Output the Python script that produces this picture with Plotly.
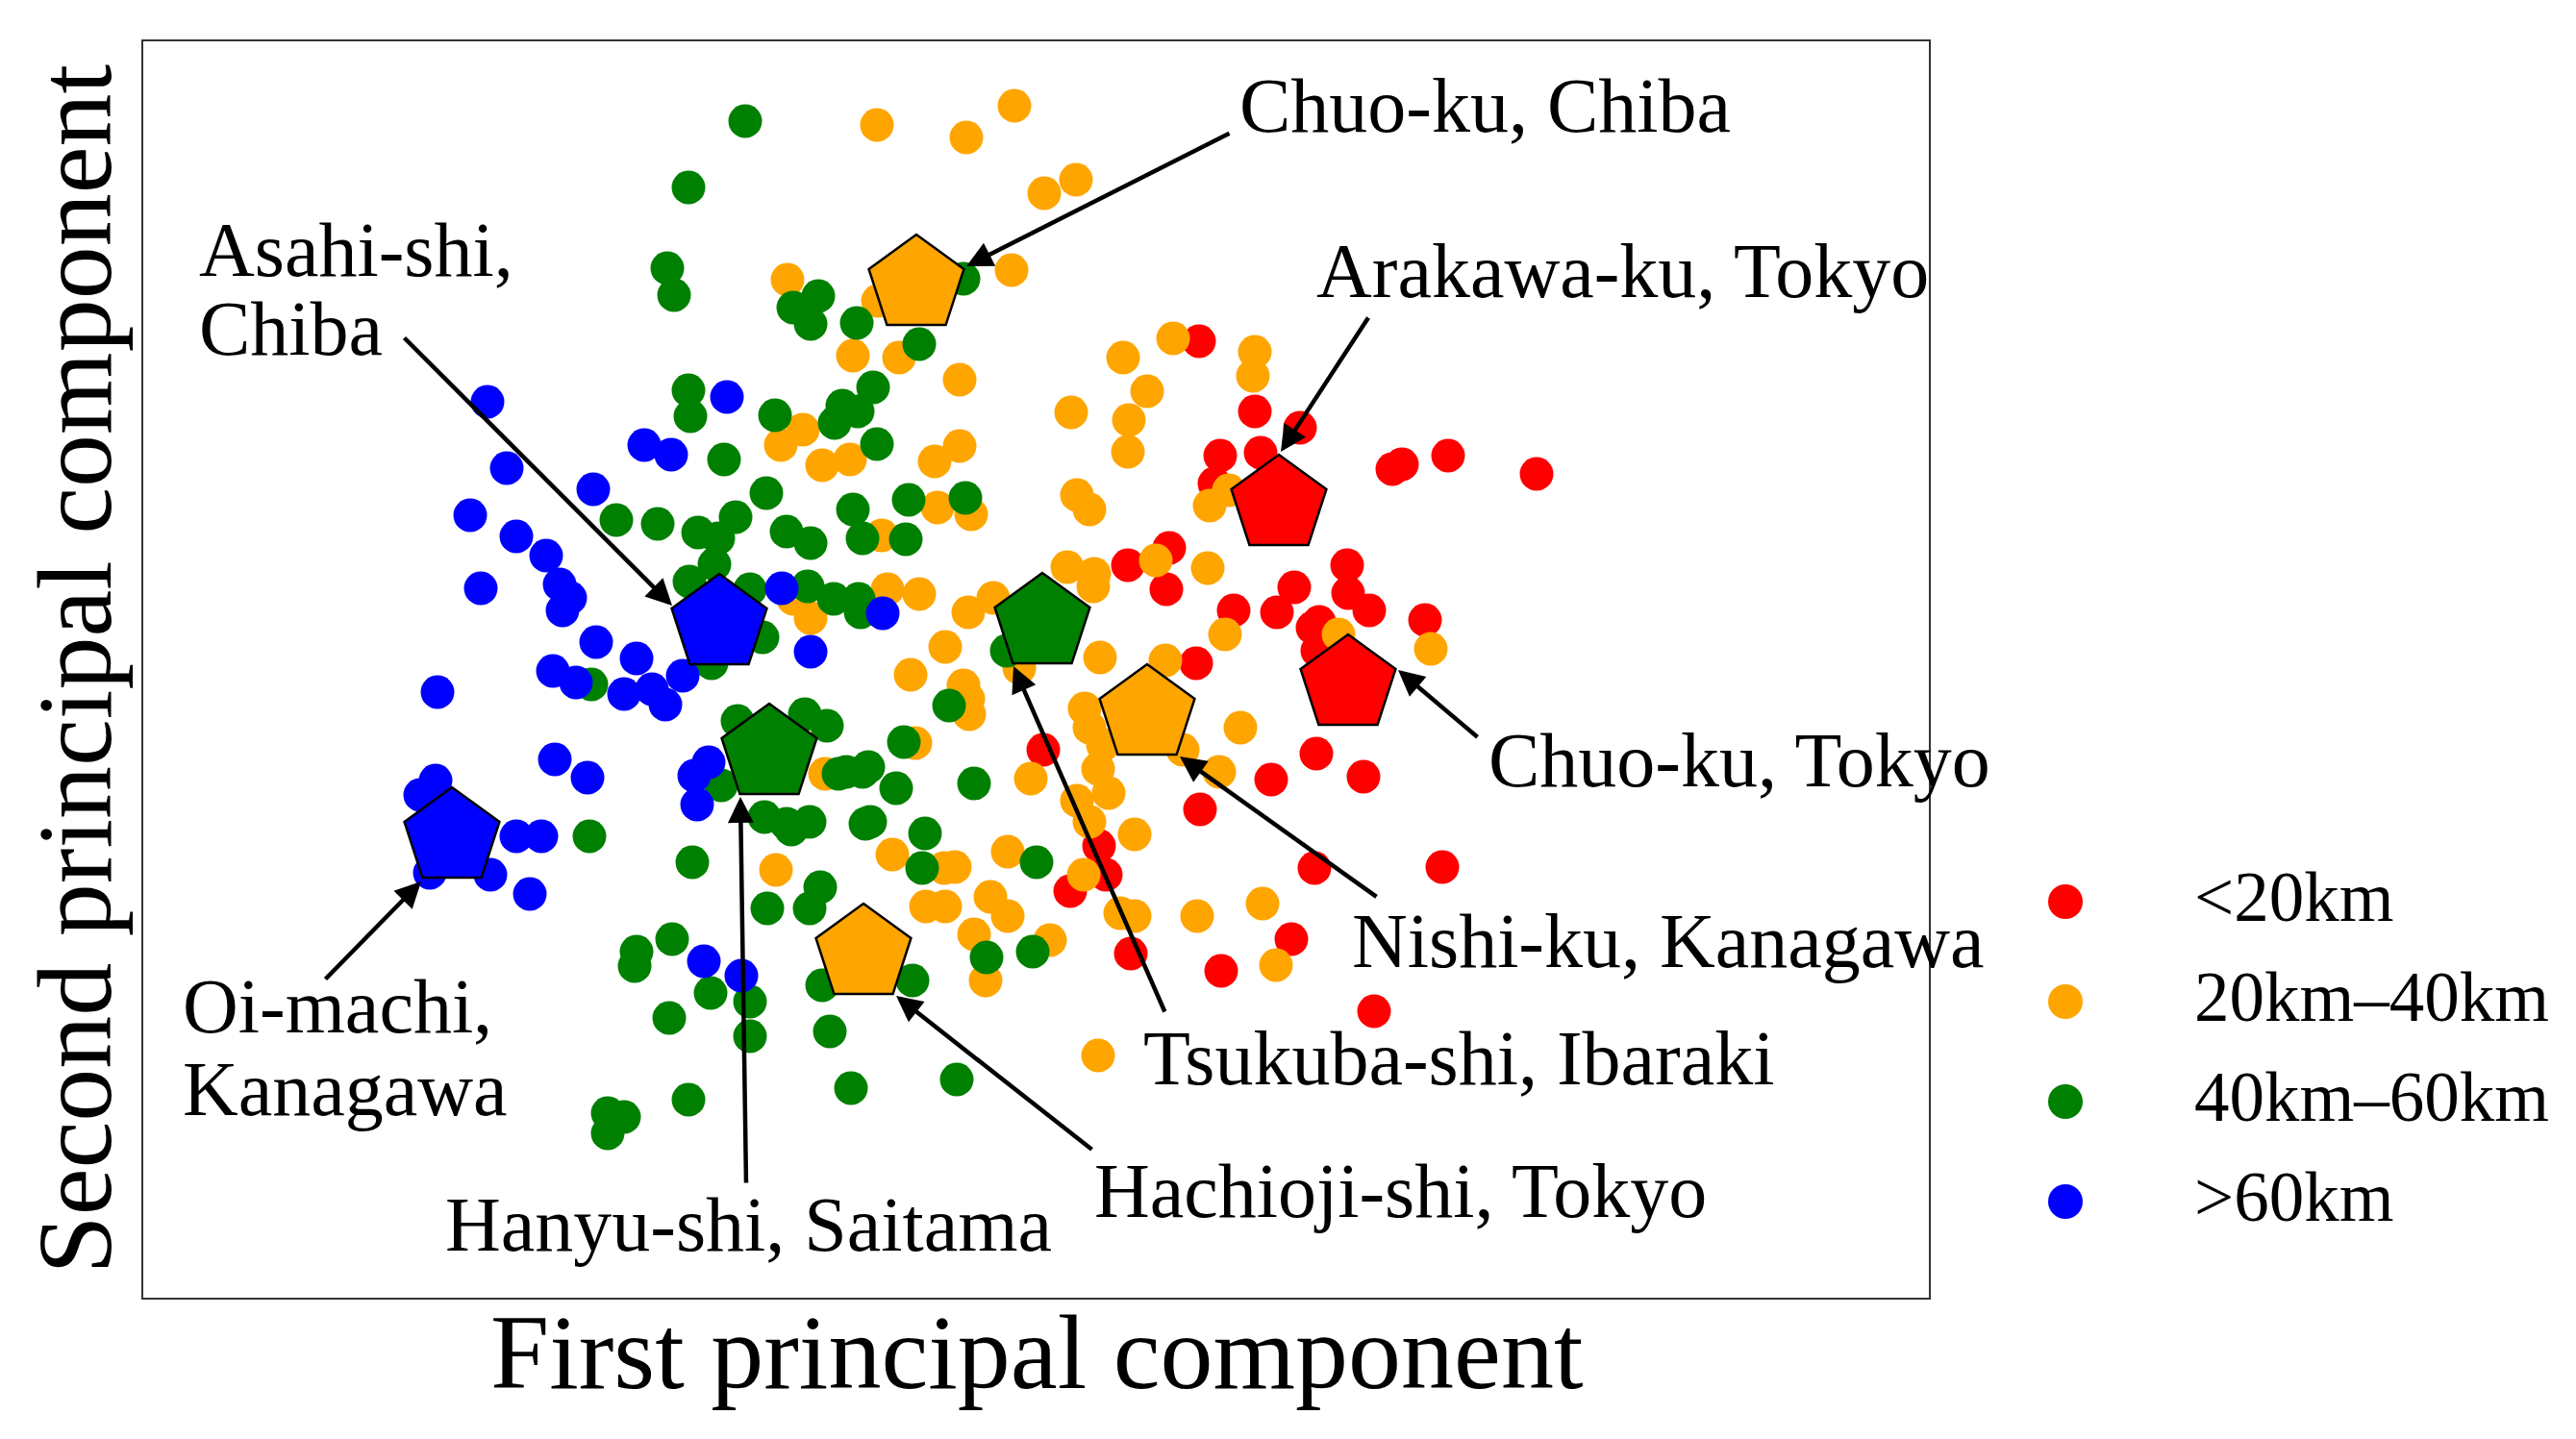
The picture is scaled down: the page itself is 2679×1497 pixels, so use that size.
import plotly.graph_objects as go

# ---------------- data (arbitrary PC units) ----------------
categories = ["<20km", "20km\u201340km", "40km\u201360km", ">60km"]
colors = ["#FF0000", "#FFA500", "#008000", "#0000FF"]

pts_lt20 = [(1247, 355), (1305, 428), (1269, 474), (1311, 471), (1352, 445), (1263, 503),
            (1448, 488), (1458, 483), (1506, 474), (1598, 493), (1216, 570), (1173, 588),
            (1213, 613), (1346, 611), (1328, 637), (1283, 635), (1401, 588), (1402, 617),
            (1424, 635), (1372, 647), (1482, 645), (1244, 690), (1365, 653), (1370, 677),
            (1369, 784), (1322, 811), (1418, 808), (1085, 780), (1248, 842), (1143, 880),
            (1113, 927), (1150, 910), (1176, 992), (1343, 977), (1270, 1010), (1367, 903),
            (1500, 902), (1429, 1052)]

pts_20_40 = [(819, 291), (855, 484), (884, 478), (812, 463), (835, 447), (912, 130),
             (1005, 143), (1055, 110), (1086, 201), (1119, 187), (913, 313), (1052, 281),
             (887, 370), (935, 372), (998, 395), (972, 480), (998, 464), (1168, 372),
             (1220, 352), (1193, 407), (1114, 429), (1174, 437), (1173, 470), (1303, 391),
             (1305, 366), (1278, 510), (1258, 526), (1202, 583), (1256, 591), (1274, 660),
             (1392, 660), (1488, 675), (1212, 687), (975, 528), (1010, 535), (917, 557),
             (1120, 515), (1133, 530), (1110, 590), (1138, 597), (1137, 610), (923, 613),
             (956, 618), (1033, 622), (1007, 637), (825, 623), (843, 643), (983, 673),
             (1060, 695), (947, 702), (1002, 713), (1007, 727), (1008, 743), (1144, 684),
             (1128, 737), (1133, 757), (1147, 775), (1142, 800), (1153, 825), (1120, 833),
             (1133, 855), (1230, 780), (1268, 803), (1290, 757), (1072, 810), (952, 773),
             (1180, 868), (858, 805), (807, 905), (928, 889), (982, 903), (993, 902),
             (1048, 886), (963, 943), (983, 943), (1030, 933), (1048, 953), (1013, 972),
             (1025, 1020), (1092, 978), (1127, 910), (1165, 950), (1180, 953), (1245, 953),
             (1313, 940), (1327, 1004), (1142, 1098)]

pts_40_60 = [(775, 126), (716, 195), (694, 279), (701, 307), (825, 320), (843, 337),
             (851, 308), (716, 406), (718, 433), (806, 432), (753, 478), (1002, 290),
             (891, 336), (956, 358), (908, 403), (876, 422), (868, 440), (892, 428),
             (912, 462), (641, 541), (684, 545), (726, 554), (747, 560), (765, 538),
             (797, 513), (887, 530), (897, 560), (818, 553), (843, 565), (743, 587),
             (717, 605), (780, 613), (840, 610), (867, 623), (893, 623), (793, 663),
             (740, 690), (615, 712), (767, 750), (837, 743), (860, 755), (872, 805),
             (897, 803), (750, 817), (795, 850), (818, 857), (842, 855), (900, 857),
             (613, 870), (720, 897), (823, 863), (853, 923), (798, 945), (842, 945),
             (855, 1025), (863, 1073), (885, 1132), (662, 990), (660, 1005), (699, 977),
             (739, 1033), (780, 1042), (696, 1059), (780, 1078), (716, 1144), (632, 1158),
             (649, 1162), (632, 1179), (945, 520), (1004, 518), (942, 561), (895, 637),
             (1047, 677), (987, 734), (940, 772), (903, 798), (880, 803), (932, 820),
             (1013, 815), (905, 855), (962, 867), (959, 903), (1078, 897), (1026, 996),
             (1074, 990), (949, 1020), (995, 1123)]

pts_gt60 = [(507, 418), (527, 487), (756, 413), (670, 463), (698, 473), (489, 536),
            (537, 558), (568, 578), (500, 612), (582, 608), (593, 622), (585, 635),
            (617, 509), (813, 612), (843, 678), (620, 668), (662, 685), (575, 698),
            (599, 710), (649, 722), (678, 717), (692, 733), (710, 703), (455, 720),
            (737, 793), (722, 807), (725, 837), (577, 790), (611, 809), (453, 812),
            (437, 827), (537, 870), (563, 870), (510, 910), (447, 908), (551, 930),
            (732, 1000), (771, 1015), (918, 638)]

groups = [pts_lt20, pts_20_40, pts_40_60, pts_gt60]

# highlighted municipalities (pentagons)
hl_names = ["Chuo-ku, Chiba", "Asahi-shi, Chiba", "Arakawa-ku, Tokyo", "Chuo-ku, Tokyo",
            "Nishi-ku, Kanagawa", "Tsukuba-shi, Ibaraki", "Hanyu-shi, Saitama",
            "Oi-machi, Kanagawa", "Hachioji-shi, Tokyo"]
hl_class = [1, 3, 0, 0, 1, 2, 2, 3, 1]
hl_x = [953, 748, 1330, 1402, 1193, 1084, 800, 470, 898]
hl_y = [296, 649, 525, 712, 743, 648, 784, 871, 992]

# ---------------- layout constants (positions / styles) ----------------
PAGE_W, PAGE_H = 2679, 1497
BODY = 8                      # default body margin of the html page
W, H = PAGE_W - 2 * BODY, PAGE_H - 2 * BODY
PLOT_L, PLOT_R, PLOT_T, PLOT_B = 149, 2006, 43, 1350   # page pixel frame
ML = PLOT_L - BODY
MT = PLOT_T - BODY
MB = (PAGE_H - BODY) - PLOT_B
X_RANGE = [PLOT_L, PLOT_R]
Y_RANGE = [PLOT_B, PLOT_T]
PAPER_W = W - ML
PAPER_H = H - MT - MB
FONT = "Liberation Serif, Times New Roman, serif"


def px2paper_x(px):
    return (px - PLOT_L) / PAPER_W


def px2paper_y(py):
    return 1 - (py - PLOT_T) / PAPER_H


# label text lines: (text, left x, center y) in data units
label_lines = [
    ("Chuo-ku, Chiba", 1287, 110),
    ("Asahi-shi,", 205, 260),
    ("Chiba", 205, 342),
    ("Arakawa-ku, Tokyo", 1367, 282),
    ("Chuo-ku, Tokyo", 1546, 791),
    ("Nishi-ku, Kanagawa", 1404, 979),
    ("Tsukuba-shi, Ibaraki", 1187, 1101),
    ("Hachioji-shi, Tokyo", 1136, 1239),
    ("Hanyu-shi, Saitama", 461, 1274),
    ("Oi-machi,", 188, 1047),
    ("Kanagawa", 188, 1133),
]
# arrows: (tail x, tail y, head x, head y)
arrows = [
    (1280, 138, 1005, 277),
    (419, 350, 699, 630),
    (1424, 329, 1332, 470),
    (1538, 768, 1454, 697),
    (1433, 934, 1227, 787),
    (1212, 1054, 1054, 693),
    (1137, 1197, 932, 1036),
    (776, 1232, 770, 829),
    (337, 1020, 438, 917),
]

fig = go.Figure()

for name, col, pts in zip(categories, colors, groups):
    fig.add_trace(go.Scatter(
        x=[p[0] for p in pts], y=[p[1] for p in pts], mode="markers", name=name,
        marker=dict(color=col, size=35, line=dict(width=0)), showlegend=False,
        xaxis="x", yaxis="y"))

fig.add_trace(go.Scatter(
    x=hl_x, y=hl_y, mode="markers", text=hl_names, showlegend=False,
    marker=dict(symbol="pentagon", size=104, color=[colors[c] for c in hl_class],
                line=dict(color="black", width=2.5)),
    xaxis="x", yaxis="y"))

# legend drawn on an auxiliary axis so that markers can be large
leg_y = [938 + 104 * i for i in range(len(categories))]
fig.add_trace(go.Scatter(
    x=[2148] * len(categories), y=leg_y, mode="markers", showlegend=False,
    marker=dict(color=colors, size=36, line=dict(width=0)), xaxis="x2", yaxis="y2"))

annotations = []
for txt, lx, ly in label_lines:
    annotations.append(dict(x=lx, y=ly, xref="x", yref="y", text=txt, showarrow=False,
                            xanchor="left", yanchor="middle",
                            font=dict(family=FONT, size=80, color="black")))
for tx, ty, hx, hy in arrows:
    annotations.append(dict(x=hx, y=hy, ax=tx, ay=ty, xref="x", yref="y", axref="x", ayref="y",
                            text="", showarrow=True, arrowhead=2, arrowsize=1.2,
                            arrowwidth=4.5, arrowcolor="black", standoff=0, startstandoff=0))
for i, cat in enumerate(categories):
    annotations.append(dict(x=2280, y=leg_y[i] - 5, xref="x2", yref="y2", text=cat,
                            showarrow=False, xanchor="left", yanchor="middle",
                            font=dict(family=FONT, size=73, color="black")))
# axis titles
annotations.append(dict(x=px2paper_x((PLOT_L + PLOT_R) / 2), y=px2paper_y(1407), xref="paper",
                        yref="paper", text="First principal component", showarrow=False,
                        xanchor="center", yanchor="middle",
                        font=dict(family=FONT, size=110, color="black")))
annotations.append(dict(x=px2paper_x(77), y=0.5, xref="paper", yref="paper",
                        text="Second principal component", showarrow=False, textangle=-90,
                        xanchor="center", yanchor="middle",
                        font=dict(family=FONT, size=110, color="black")))

axis_common = dict(showline=True, mirror=True, linecolor="#333333", linewidth=2,
                   showgrid=False, zeroline=False, showticklabels=False, ticks="")

fig.update_layout(
    width=W, height=H,
    margin=dict(l=ML, r=0, t=MT, b=MB, pad=0),
    paper_bgcolor="white", plot_bgcolor="white",
    xaxis=dict(domain=[0, px2paper_x(PLOT_R)], range=X_RANGE, anchor="y", **axis_common),
    yaxis=dict(domain=[0, 1], range=Y_RANGE, anchor="x", **axis_common),
    xaxis2=dict(domain=[px2paper_x(PLOT_R), 1], range=[PLOT_R, PAGE_W - BODY], anchor="y2",
                visible=False),
    yaxis2=dict(domain=[0, 1], range=Y_RANGE, anchor="x2", visible=False),
    annotations=annotations,
    showlegend=False,
)

fig.write_html("out.html")
